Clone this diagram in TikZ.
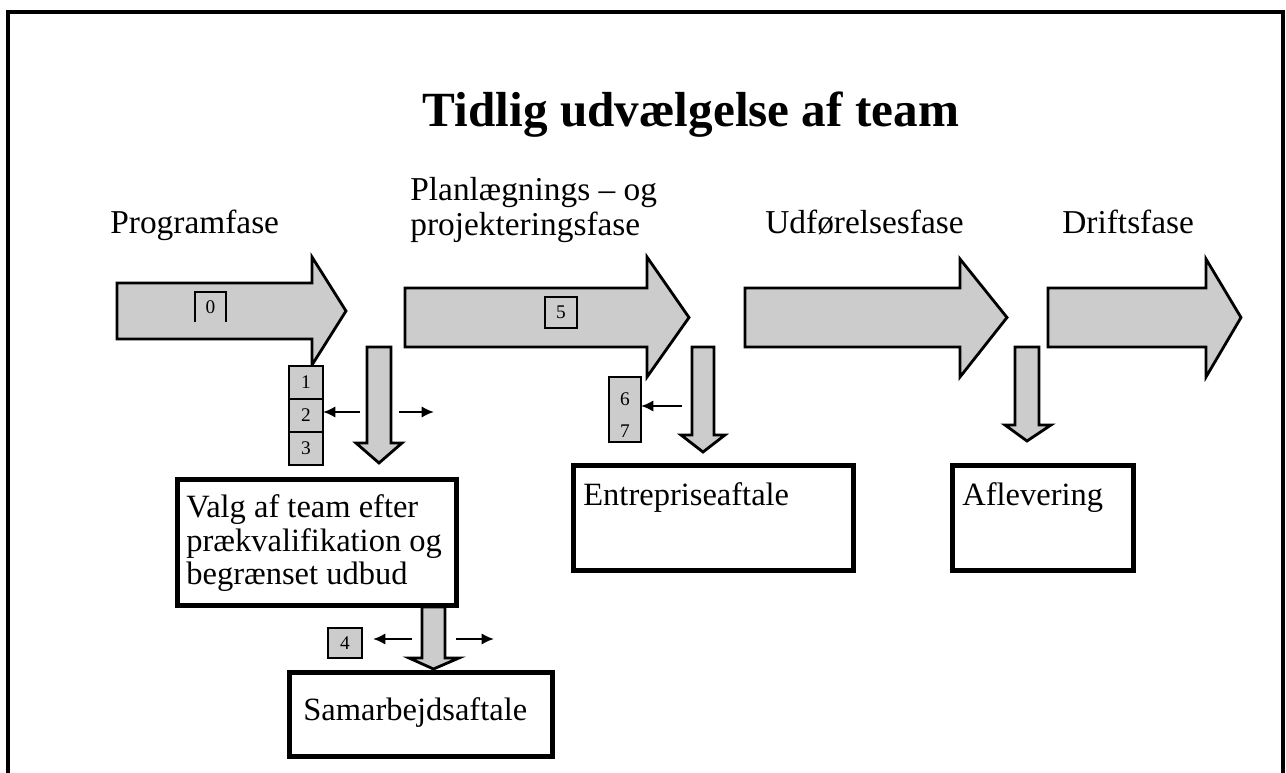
\documentclass[tikz,border=0pt]{standalone}
\usepackage{fontspec}
\setmainfont{Liberation Serif}
\usetikzlibrary{arrows.meta}
\definecolor{pilgraa}{gray}{0.8}

% tyk pil mod hoejre: venstre, top, bund, hovedbasis, hovedtop, hovedbund, spids
\newcommand{\fasepil}[7]{%
  \draw[fase] (#1,#2) -- (#4,#2) -- (#4,#5) -- (#7,{(#2+#3)/2}) -- (#4,#6) -- (#4,#3) -- (#1,#3) -- cycle;}
% tyk pil nedad: venstre, hoejre, top, hovedbasis, hoved venstre, hoved hoejre, spids
\newcommand{\nedpil}[7]{%
  \draw[fase] (#1,#3) -- (#2,#3) -- (#2,#4) -- (#6,#4) -- ({(#1+#2)/2},#7) -- (#5,#4) -- (#1,#4) -- cycle;}

\begin{document}
\begin{tikzpicture}[x=0.02cm, y=-0.02cm,
    fase/.style={draw, fill=pilgraa, line width=1.6pt, line join=miter},
    felt/.style={draw, line width=3pt, inner sep=0pt, outer sep=0pt},
    felttekst/.style={anchor=north west, inner sep=0pt, align=left, font=\fontsize{18.5}{19}\selectfont},
    fasetekst/.style={anchor=base west, inner sep=0pt, align=left, font=\fontsize{19}{20}\selectfont},
    nr/.style={draw, fill=pilgraa, line width=1.3pt, inner sep=0pt, outer sep=0pt,
               minimum width=0.68cm, minimum height=0.66cm, font=\fontsize{11}{12}\selectfont},
    lillepil/.style={-{Latex[length=7pt,width=6.5pt]}, line width=1.5pt}]
  \useasboundingbox (0,0) rectangle (1286,773);
  \draw[line width=2.2pt] (8,773) -- (8,12) -- (1283,12) -- (1283,773);

  \node[font=\bfseries\fontsize{28}{30}\selectfont, anchor=base] (titel) at (691,127) {Tidlig udvælgelse af team};

  % faser
  \node[fasetekst] (programfase) at (110,234) {Programfase};
  \node[fasetekst, anchor=north west] (planfase) at (410,177) {Planlægnings – og\\projekteringsfase};
  \node[fasetekst] (udfoerelse) at (765,234) {Udførelsesfase};
  \node[fasetekst] (drift) at (1062,234) {Driftsfase};

  \fasepil{117}{283}{339}{312}{257}{365}{346}
  \fasepil{405}{288}{347}{647}{257}{377}{689}
  \fasepil{745}{288}{347}{960}{259}{377}{1007}
  \fasepil{1048}{288}{347}{1206}{259}{377}{1241}

  \nedpil{367}{391}{347}{443}{356}{402}{463}
  \nedpil{692}{714}{347}{435}{681}{725}{452}
  \nedpil{1015}{1039}{347}{425}{1005}{1051}{441}
  \nedpil{422}{445}{607}{658}{409}{459}{669}

  % numre
  \node[nr, draw=none, minimum width=0.62cm, minimum height=0.6cm] (n0) at (210.5,307) {0};
  \draw[line width=1.3pt] (n0.south west) |- (n0.north east) -- (n0.south east);
  \node[nr, minimum width=0.64cm, minimum height=0.62cm] (n5) at (561,312.5) {5};
  \node[nr] (n1) at (306,382.5) {1};
  \node[nr, anchor=north] (n2) at (n1.south) {2};
  \node[nr, anchor=north] (n3) at (n2.south) {3};
  \node[nr, minimum width=0.64cm, minimum height=1.3cm] (n67) at (625,409.5) {};
  \node[font=\fontsize{11}{12}\selectfont, inner sep=0pt] (n6) at (625,399) {6};
  \node[font=\fontsize{11}{12}\selectfont, inner sep=0pt] (n7) at (625,431) {7};
  \node[nr, minimum height=0.6cm] (n4) at (345,643) {4};

  % smaa pile
  \coordinate (p1) at (360,412);
  \draw[lillepil] (p1) -- (p1 -| n2.east);
  \coordinate (p2a) at (399,412);
  \coordinate (p2b) at (434,412);
  \draw[lillepil] (p2a) -- (p2b);
  \coordinate (p3) at (682,406);
  \draw[lillepil] (p3) -- (p3 -| n67.east);
  \coordinate (p4a) at (412,639);
  \coordinate (p4b) at (373,639);
  \draw[lillepil] (p4a) -- (p4b);
  \coordinate (p5a) at (456,639);
  \coordinate (p5b) at (494,639);
  \draw[lillepil] (p5a) -- (p5b);

  % felter
  \node[felt, minimum width=5.58cm, minimum height=2.52cm] (valg) at (317,542.5) {};
  \node[felttekst] (valgtekst) at ([xshift=0.17cm, yshift=-0.3cm]valg.north west)
    {Valg af team efter\\prækvalifikation og\\begrænset udbud};
  \node[felt, minimum width=5.26cm, minimum height=1.68cm] (samarbejde) at (421,714.5) {};
  \node[felttekst] (samarbejdetekst) at ([xshift=0.27cm, yshift=-0.5cm]samarbejde.north west) {Samarbejdsaftale};
  \node[felt, minimum width=5.6cm, minimum height=2.1cm] (entreprise) at (713.5,518) {};
  \node[felttekst] (entreprisetekst) at ([xshift=0.19cm, yshift=-0.34cm]entreprise.north west) {Entrepriseaftale};
  \node[felt, minimum width=3.62cm, minimum height=2.1cm] (aflevering) at (1043,518) {};
  \node[felttekst] (afleveringtekst) at ([xshift=0.19cm, yshift=-0.34cm]aflevering.north west) {Aflevering};
\end{tikzpicture}
\end{document}
